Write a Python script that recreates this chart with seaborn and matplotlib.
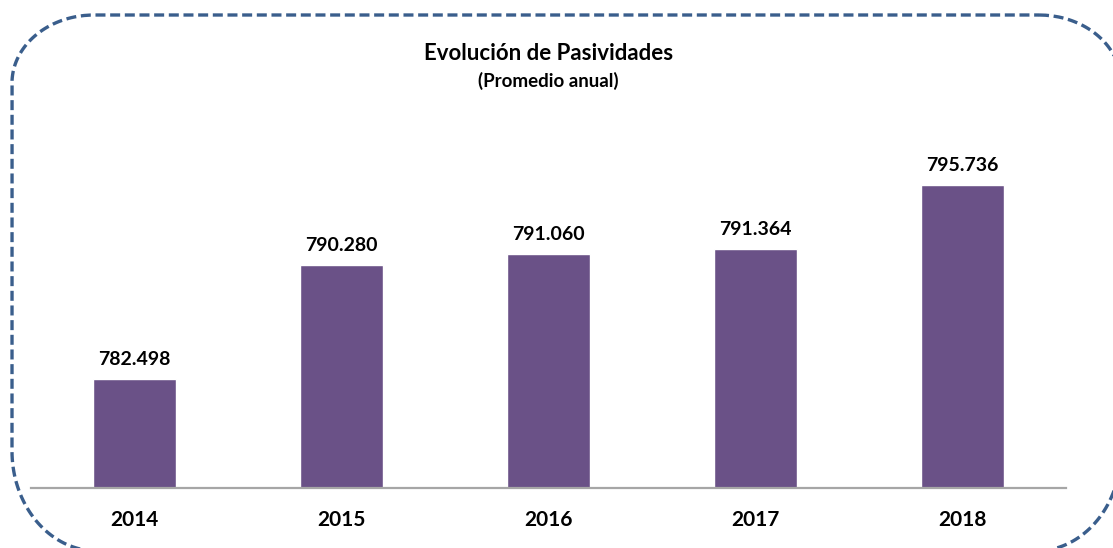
import numpy as np
import matplotlib.pyplot as plt
import seaborn as sns

years = ["2014", "2015", "2016", "2017", "2018"]
pasividades = [782498, 790280, 791060, 791364, 795736]

title = "Evolución de Pasividades"
subtitle = "(Promedio anual)"

sns.set_theme(style="white")
plt.rcParams["font.family"] = ["Lato", "DejaVu Sans"]
plt.rcParams["text.color"] = "black"
plt.rcParams["xtick.color"] = "black"


def rounded_frame(x0, y0, x1, y1, top_r, bot_r, n=40):
    # outline of a rectangle with elliptical corners (pixel coords, y downwards)
    tx, ty = top_r
    bx, by = bot_r
    t = np.linspace(0, np.pi / 2, n)
    xs, ys = [], []
    # top-right
    xs += list(x1 - tx + tx * np.sin(t)); ys += list(y0 + ty - ty * np.cos(t))
    # bottom-right
    xs += list(x1 - bx + bx * np.cos(t)); ys += list(y1 - by + by * np.sin(t))
    # bottom-left
    xs += list(x0 + bx - bx * np.sin(t)); ys += list(y1 - by + by * np.cos(t))
    # top-left
    xs += list(x0 + tx - tx * np.cos(t)); ys += list(y0 + ty - ty * np.sin(t))
    xs.append(xs[0]); ys.append(ys[0])
    return xs, ys


fig = plt.figure(figsize=(11.13, 5.48), dpi=100)

# main chart area
ax = fig.add_axes([0.0279, 0.1095, 0.930, 0.653])
sns.barplot(x=years, y=pasividades, color="#6A5187", saturation=1, width=0.4, ax=ax)
ax.set_xlim(-0.5, 4.5)
ax.set_ylim(775060, 799490)

labels = [f"{v:,}".replace(",", ".") for v in pasividades]
ax.bar_label(ax.containers[0], labels=labels, padding=8, fontsize=14,
             fontweight="bold", color="black")

for side in ["top", "right", "left"]:
    ax.spines[side].set_visible(False)
ax.spines["bottom"].set_color("#A6A6A6")
ax.spines["bottom"].set_linewidth(1.6)
ax.set_yticks([])
ax.tick_params(axis="x", length=0, pad=16, labelsize=15, labelcolor="black")
for t in ax.get_xticklabels():
    t.set_fontweight("bold")
ax.set_xlabel("")
ax.set_ylabel("")

fig.text(0.4925, 0.903, title, ha="center", va="center", fontsize=16, fontweight="bold")
fig.text(0.4925, 0.853, subtitle, ha="center", va="center", fontsize=13.5, fontweight="bold")

# dashed rounded frame, in pixel coordinates
frame = fig.add_axes([0, 0, 1, 1], zorder=-1)
frame.set_xlim(0, 1113)
frame.set_ylim(548, 0)
frame.axis("off")
fx, fy = rounded_frame(12, 15, 1121, 551, (82, 68), (85, 100))
frame.plot(fx, fy, color="#3A5E8C", linewidth=2.4, linestyle=(0, (3, 1.4)),
           dash_capstyle="butt")

plt.savefig("out.png", dpi=100)
plt.close()
